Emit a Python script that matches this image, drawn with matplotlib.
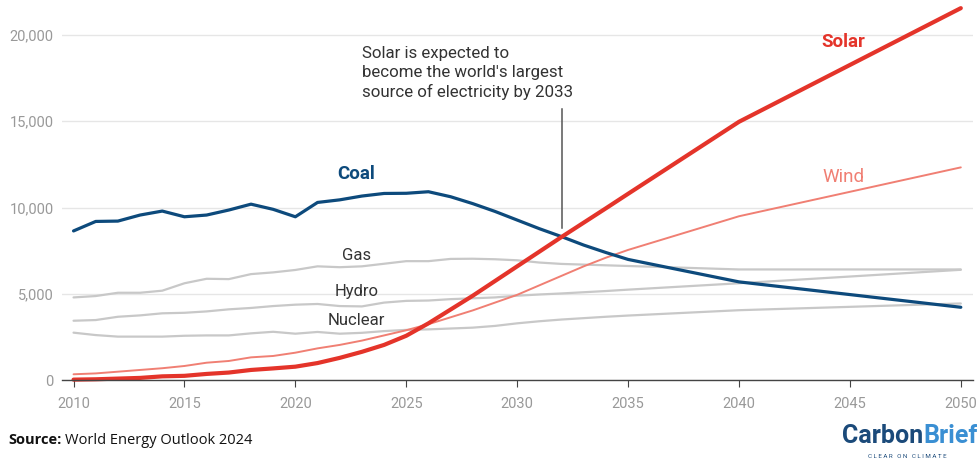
import matplotlib.pyplot as plt

plt.rcParams['font.family'] = ['Roboto', 'DejaVu Sans']

# Electricity generation (TWh), WEO 2024 stated policies
years = list(range(2010, 2036)) + [2040, 2050]

coal = [8650, 9200, 9220, 9570, 9800, 9470, 9570, 9860, 10200, 9900,
        9470, 10300, 10450, 10670, 10820, 10830, 10920, 10630, 10230, 9780,
        9280, 8780, 8320, 7830, 7400, 7000, 5700, 4230]
gas = [4800, 4880, 5070, 5070, 5190, 5620, 5880, 5860, 6150, 6250,
       6390, 6600, 6550, 6600, 6750, 6900, 6900, 7030, 7040, 7010,
       6950, 6820, 6740, 6700, 6660, 6620, 6420, 6420]
hydro = [3450, 3490, 3680, 3760, 3880, 3910, 3990, 4110, 4190, 4300,
         4380, 4420, 4300, 4280, 4500, 4600, 4620, 4700, 4750, 4800,
         4900, 4970, 5030, 5100, 5170, 5250, 5620, 6400]
nuclear = [2760, 2620, 2530, 2530, 2530, 2580, 2600, 2600, 2720, 2810,
           2700, 2800, 2700, 2750, 2850, 2920, 2950, 3000, 3050, 3150,
           3300, 3420, 3520, 3600, 3680, 3750, 4060, 4450]
wind = [350, 400, 500, 600, 700, 830, 1020, 1120, 1330, 1410,
        1600, 1850, 2050, 2300, 2600, 2900, 3250, 3650, 4050, 4500,
        4950, 5500, 6050, 6600, 7100, 7550, 9500, 12330]
solar = [40, 60, 100, 140, 230, 260, 370, 450, 600, 690,
         790, 1000, 1300, 1650, 2050, 2580, 3300, 4100, 4900, 5750,
         6600, 7450, 8300, 9130, 9960, 10800, 14970, 21550]

xticks = [2010, 2015, 2020, 2025, 2030, 2035, 2040, 2045, 2050]
yticks = [0, 5000, 10000, 15000, 20000]
ytick_labels = ['0', '5,000', '10,000', '15,000', '20,000']

COAL = '#0d4a7c'
SOLAR = '#e4342a'
WIND = '#f07f73'
GREY = '#c8c8c8'
TXT = '#333333'

fig = plt.figure(figsize=(9.78, 4.62), dpi=100)
ax = fig.add_axes([0.0634, 0.1768, 0.9315, 0.8149])

for s in [gas, hydro, nuclear]:
    ax.plot(years, s, color=GREY, lw=1.6, clip_on=False, solid_capstyle='round')
ax.plot(years, wind, color=WIND, lw=1.4, clip_on=False, solid_capstyle='round')
ax.plot(years, coal, color=COAL, lw=2.3, clip_on=False, solid_capstyle='round')
ax.plot(years, solar, color=SOLAR, lw=3.0, clip_on=False, solid_capstyle='round')

ax.set_xlim(2009.48, 2050.55)
ax.set_ylim(0, 21800)
ax.set_xticks(xticks)
ax.set_yticks(yticks)
ax.set_yticklabels(ytick_labels)
ax.grid(axis='y', color='#e6e6e6', lw=1)
ax.set_axisbelow(True)
for sp in ['top', 'right', 'left']:
    ax.spines[sp].set_visible(False)
ax.spines['bottom'].set_color('#444444')
ax.spines['bottom'].set_linewidth(1.0)
ax.tick_params(axis='x', length=5, color='#444444', pad=7, labelsize=10.5, labelcolor='#999999')
ax.tick_params(axis='y', length=0, pad=6, labelsize=10.5, labelcolor='#999999')

# series labels
ax.text(2022.75, 11950, 'Coal', color=COAL, fontsize=13.5, fontweight='bold', ha='center', va='center')
ax.text(2044.72, 19610, 'Solar', color=SOLAR, fontsize=13.5, fontweight='bold', ha='center', va='center')
ax.text(2044.72, 11770, 'Wind', color=WIND, fontsize=13.5, ha='center', va='center')
ax.text(2022.75, 7250, 'Gas', color=TXT, fontsize=12, ha='center', va='center')
ax.text(2022.75, 5130, 'Hydro', color=TXT, fontsize=12, ha='center', va='center')
ax.text(2022.75, 3490, 'Nuclear', color=TXT, fontsize=12, ha='center', va='center')

# annotation
ax.plot([2032, 2032], [8800, 15700], color='#555555', lw=1.1)
ax.text(2022.99, 17780,
        "Solar is expected to\nbecome the world's largest\nsource of electricity by 2033",
        color=TXT, fontsize=12.2, ha='left', va='center', linespacing=1.3)

# footer
W, H = 978, 462
r = fig.canvas.get_renderer()
src = fig.text(8 / W, 1 - 440 / H, 'Source:', fontsize=10.5, fontweight='bold', color='#111111',
               family=['Open Sans', 'DejaVu Sans'], va='center', ha='left')
x1 = src.get_window_extent(r).x1
fig.text((x1 + 4) / W, 1 - 440 / H, 'World Energy Outlook 2024', fontsize=10.5, color='#111111',
         family=['Open Sans', 'DejaVu Sans'], va='center', ha='left')

cb = fig.text(842 / W, 1 - 436 / H, 'Carbon', fontsize=18, fontweight='bold', color='#1b4a7a',
              va='center', ha='left')
x1 = cb.get_window_extent(r).x1
fig.text(x1 / W, 1 - 436 / H, 'Brief', fontsize=18, fontweight='bold', color='#3a8fd3',
         va='center', ha='left')
fig.text(868 / W, 1 - 457 / H, 'C L E A R   O N   C L I M A T E', fontsize=4.5,
         color='#1b4a7a', va='center', ha='left')

fig.savefig('out.png', dpi=100, facecolor='white')
